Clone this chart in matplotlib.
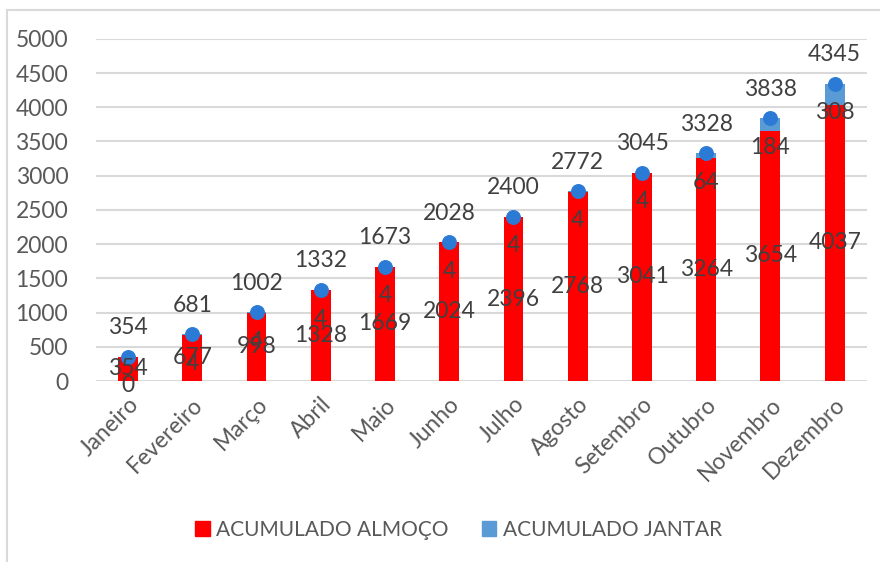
import numpy as np
import matplotlib.pyplot as plt
from matplotlib.lines import Line2D

meses = ["Janeiro", "Fevereiro", "Março", "Abril", "Maio", "Junho", "Julho",
         "Agosto", "Setembro", "Outubro", "Novembro", "Dezembro"]
almoco = [354, 677, 998, 1328, 1669, 2024, 2396, 2768, 3041, 3264, 3654, 4037]
jantar = [0, 4, 4, 4, 4, 4, 4, 4, 4, 64, 184, 308]
total = [354, 681, 1002, 1332, 1673, 2028, 2400, 2772, 3045, 3328, 3838, 4345]

plt.rcParams['font.family'] = ['Lato', 'DejaVu Sans']
cinza = '#595959'

fig = plt.figure(figsize=(8.8, 5.62), dpi=100)
ax = fig.add_axes([0.109, 0.322, 0.876, 0.609])

x = np.arange(len(meses))
larg = 0.31
ax.bar(x, almoco, larg, color='#FF0000', label='ACUMULADO ALMOÇO', zorder=2)
ax.bar(x, jantar, larg, bottom=almoco, color='#5B9BD5', label='ACUMULADO JANTAR', zorder=2)
ax.scatter(x, total, s=95, color='#2B7BD6', zorder=4)

# rotulos
for i in range(len(meses)):
    ax.annotate(str(almoco[i]), (x[i], almoco[i] / 2), ha='center', va='center',
                fontsize=16.5, color='#404040', zorder=5)
    ax.annotate(str(jantar[i]), (x[i], total[i]), xytext=(0, -21), textcoords='offset points',
                ha='center', va='center', fontsize=16.5, color='#404040', zorder=5)
    ax.annotate(str(total[i]), (x[i], total[i]), xytext=(0, 21), textcoords='offset points',
                ha='center', va='center', fontsize=16.5, color='#404040', zorder=5)

ax.set_xlim(-0.5, len(meses) - 0.5)
ax.set_ylim(0, 5000)
ax.set_yticks(np.arange(0, 5001, 500))
ax.set_xticks(x)
ax.set_xticklabels(meses, rotation=45, ha='right', rotation_mode='anchor')
ax.tick_params(axis='both', length=0, labelsize=16.5, labelcolor=cinza)
ax.tick_params(axis='y', pad=20)
ax.tick_params(axis='x', pad=9)
ax.grid(axis='y', color='#D9D9D9', linewidth=1.5, zorder=0)
for s in ax.spines.values():
    s.set_visible(False)

handles = [plt.Rectangle((0, 0), 1, 1, color='#FF0000'),
           plt.Rectangle((0, 0), 1, 1, color='#5B9BD5')]
fig.legend(handles, ['ACUMULADO ALMOÇO', 'ACUMULADO JANTAR'], loc='center',
           bbox_to_anchor=(0.521, 0.057), ncol=2, frameon=False, fontsize=15,
           labelcolor=cinza, handlelength=0.7, handleheight=0.7, handletextpad=0.3,
           columnspacing=1.6)

# borda do grafico
fig.add_artist(Line2D([0.008, 0.008], [0, 0.982], color='#D9D9D9', lw=1.5, transform=fig.transFigure))
fig.add_artist(Line2D([0.008, 1], [0.982, 0.982], color='#D9D9D9', lw=1.5, transform=fig.transFigure))

fig.savefig('out.png', dpi=100)
